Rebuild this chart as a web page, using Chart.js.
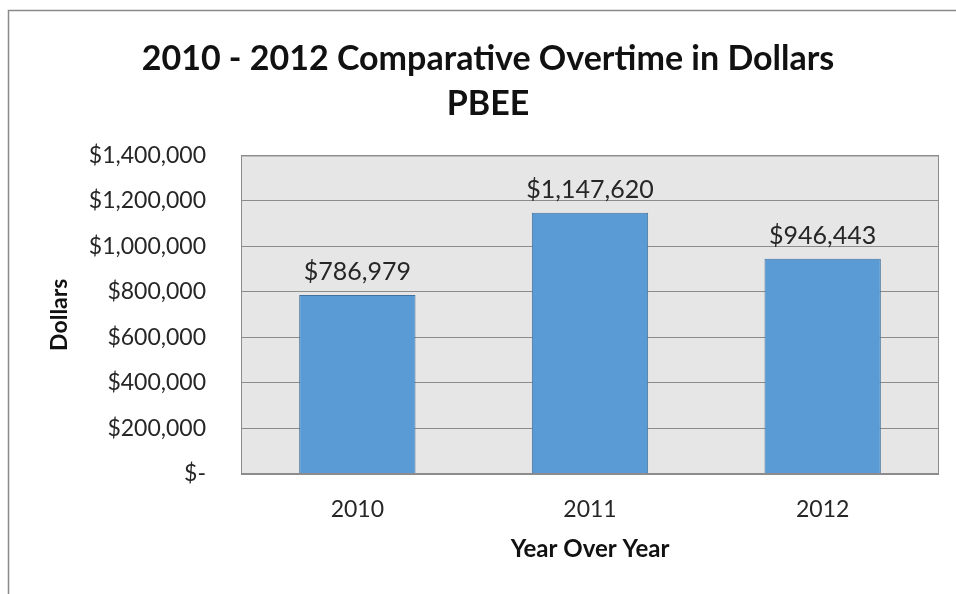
<!DOCTYPE html>
<html>
<head>
<meta charset="utf-8">
<script src="https://cdn.jsdelivr.net/npm/chart.js@4/dist/chart.umd.min.js"></script>
<style>
html,body{margin:0;padding:0;background:#fff;}
#wrap{width:956px;height:594px;position:relative;}
</style>
</head>
<body>
<div id="wrap"><canvas id="c" width="956" height="594"></canvas></div>
<script>
const categories = ['2010', '2011', '2012'];
const overtimeDollars = [786979, 1147620, 946443];
const yTicks = [0, 200000, 400000, 600000, 800000, 1000000, 1200000, 1400000];
const titleLines = ['2010 - 2012 Comparative Overtime in Dollars', 'PBEE'];

const FONT = 'Lato, "Open Sans", sans-serif';

function money(v) {
  if (v === 0) return '$-';
  return '$' + v.toLocaleString('en-US');
}

const framePlugin = {
  id: 'frame',
  beforeDraw(chart) {
    const ctx = chart.ctx;
    ctx.save();
    ctx.fillStyle = '#ffffff';
    ctx.fillRect(0, 0, chart.width, chart.height);
    ctx.strokeStyle = '#8a8a8a';
    ctx.lineWidth = 1.5;
    ctx.beginPath();
    ctx.moveTo(8.5, chart.height);
    ctx.lineTo(8.5, 10.5);
    ctx.lineTo(chart.width, 10.5);
    ctx.stroke();
    const a = chart.chartArea;
    ctx.fillStyle = '#e6e6e6';
    ctx.fillRect(a.left, a.top, a.right - a.left, a.bottom - a.top);
    ctx.restore();
  },
  afterDatasetsDraw(chart) {
    const ctx = chart.ctx;
    const a = chart.chartArea;
    ctx.save();
    ctx.strokeStyle = '#8c8c8c';
    ctx.lineWidth = 1;
    ctx.strokeRect(a.left + 0.5, a.top + 0.5, a.right - a.left - 1, a.bottom - a.top - 1);
    const meta = chart.getDatasetMeta(0);
    ctx.fillStyle = '#262626';
    ctx.font = '25px ' + FONT;
    ctx.textAlign = 'center';
    ctx.textBaseline = 'alphabetic';
    meta.data.forEach((bar, i) => {
      ctx.fillText(money(chart.data.datasets[0].data[i]), bar.x, bar.y - 15);
    });
    ctx.restore();
  }
};

new Chart(document.getElementById('c'), {
  type: 'bar',
  data: {
    labels: categories,
    datasets: [{
      data: overtimeDollars,
      backgroundColor: '#5b9bd5',
      borderColor: '#41719c',
      borderWidth: 1,
      categoryPercentage: 0.5,
      barPercentage: 1.0
    }]
  },
  plugins: [framePlugin],
  options: {
    responsive: false,
    animation: false,
    devicePixelRatio: 1,
    layout: { padding: { left: 37, right: 17, top: 0, bottom: 0 } },
    plugins: {
      legend: { display: false },
      tooltip: { enabled: false },
      title: {
        display: true,
        text: titleLines,
        color: '#111111',
        font: { family: FONT, size: 34, weight: 'bold', lineHeight: 1.33 },
        padding: { top: 36, bottom: 29 }
      }
    },
    scales: {
      x: {
        grid: { display: false, drawTicks: false },
        border: { display: false },
        ticks: { color: '#262626', font: { family: FONT, size: 23 }, padding: 22 },
        title: {
          display: true,
          text: 'Year Over Year',
          color: '#111111',
          font: { family: FONT, size: 24, weight: 'bold' },
          padding: { top: 4, bottom: 30 }
        },
        afterFit(scale) { scale.height = 120; }
      },
      y: {
        min: 0,
        max: 1400000,
        afterBuildTicks(scale) { scale.ticks = yTicks.map(v => ({ value: v })); },
        grid: { color: '#8c8c8c', drawTicks: false },
        border: { display: false },
        ticks: {
          color: '#262626',
          font: { family: FONT, size: 23 },
          padding: 35,
          callback: (v) => money(v)
        },
        title: {
          display: true,
          text: 'Dollars',
          color: '#111111',
          font: { family: FONT, size: 23, weight: 'bold' },
          padding: { top: 9, bottom: 4 }
        },
        afterFit(scale) { scale.width = 204; }
      }
    }
  }
});
</script>
</body>
</html>
